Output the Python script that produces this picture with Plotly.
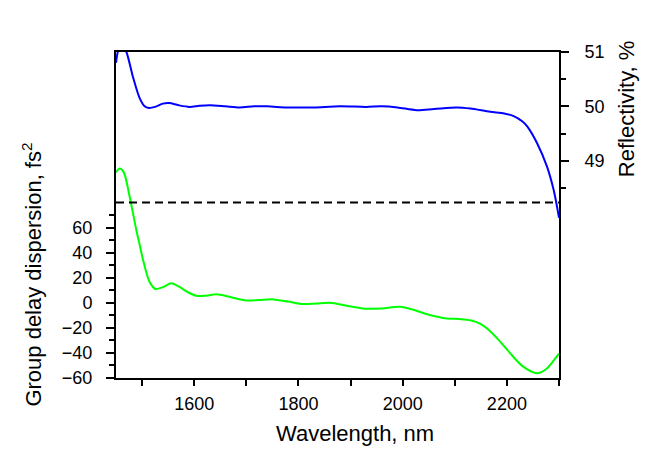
import plotly.graph_objects as go

# ---- data ----
refl_wl = [1450, 1455, 1462, 1470, 1482, 1495, 1505, 1513, 1525, 1540, 1552, 1570, 1591,
           1610, 1630, 1660, 1687, 1715, 1740, 1777, 1800, 1830, 1880, 1930, 1960, 1990,
           2027, 2060, 2104, 2130, 2168, 2195, 2213, 2230, 2239, 2258, 2277, 2290, 2300]
refl_val = [50.80, 51.05, 51.12, 51.0, 50.56, 50.16, 50.0, 49.97, 49.99, 50.05, 50.06, 50.02, 49.99,
            50.01, 50.02, 50.0, 49.98, 50.0, 50.0, 49.98, 49.98, 49.98, 50.0, 49.99, 50.0, 49.98,
            49.93, 49.95, 49.98, 49.96, 49.90, 49.87, 49.82, 49.72, 49.63, 49.32, 48.89, 48.45, 47.95]

gdd_wl = [1450, 1457, 1465, 1476, 1489, 1495, 1502, 1514, 1526, 1540, 1556, 1570, 1590, 1604,
          1620, 1643, 1665, 1700, 1725, 1752, 1780, 1809, 1835, 1861, 1895, 1931, 1960, 1995,
          2020, 2050, 2085, 2110, 2130, 2150, 2162, 2185, 2207, 2230, 2258, 2275, 2290, 2300]
gdd_val = [104, 107, 104, 85, 58, 47, 34, 17, 11, 12.5, 15.5, 13, 8, 5.6,
           5.5, 6.7, 5, 1.8, 2.2, 2.7, 1, -1, -0.5, 0, -2.5, -4.8, -4.5, -3.2,
           -5.5, -9.5, -12.5, -13, -14, -17, -20.6, -30, -40.6, -50.5, -56.2, -53, -46, -40.6]

dash_level = 80          # GDD value of the dashed reference line
x_range = [1450, 2300]
gdd_range = [-60, 200]
refl_range = [45, 51]

x_major = [1600, 1800, 2000, 2200]
x_minor = [1500, 1700, 1900, 2100, 2300]
gdd_major = [-60, -40, -20, 0, 20, 40, 60]
gdd_minor = [-50, -30, -10, 10, 30, 50, 70]
refl_major = [49, 50, 51]
refl_minor = [48.5, 49.5, 50.5]

FONT = "Arial, Liberation Sans, sans-serif"

fig = go.Figure()
fig.add_trace(go.Scatter(x=gdd_wl, y=gdd_val, mode="lines",
                         line=dict(color="#00FF00", width=2, shape="spline", smoothing=0.8),
                         yaxis="y", showlegend=False))
fig.add_trace(go.Scatter(x=x_range, y=[dash_level, dash_level], mode="lines",
                         line=dict(color="black", width=2, dash="8px,5px"),
                         yaxis="y", showlegend=False))
fig.add_trace(go.Scatter(x=refl_wl, y=refl_val, mode="lines",
                         line=dict(color="#0000FF", width=2, shape="spline", smoothing=0.8),
                         yaxis="y2", showlegend=False))

axis_common = dict(showgrid=False, zeroline=False, showline=True, linecolor="black",
                   linewidth=2, ticks="outside", tickcolor="black", tickwidth=2,
                   tickfont=dict(family=FONT, size=18, color="black"))

fig.update_layout(
    width=642, height=445,
    margin=dict(l=108, r=91, t=44, b=75),
    plot_bgcolor="white", paper_bgcolor="white",
    xaxis=dict(range=x_range, tickmode="array", tickvals=x_major, ticklen=6,
               mirror=True, ticklabelstandoff=2,
               minor=dict(tickmode="array", tickvals=x_minor, ticklen=6, tickwidth=2,
                          tickcolor="black", ticks="outside"),
               **axis_common),
    yaxis=dict(range=gdd_range, tickmode="array", tickvals=gdd_major, ticklen=8,
               ticklabelstandoff=10,
               minor=dict(tickmode="array", tickvals=gdd_minor, ticklen=5, tickwidth=2,
                          tickcolor="black", ticks="outside"),
               **axis_common),
    yaxis2=dict(range=refl_range, overlaying="y", side="right", tickmode="array",
                tickvals=refl_major, ticklen=8, ticklabelstandoff=12,
                minor=dict(tickmode="array", tickvals=refl_minor, ticklen=5, tickwidth=2,
                           tickcolor="black", ticks="outside"),
                **axis_common),
    annotations=[
        dict(text="Wavelength, nm", xref="paper", yref="paper", x=0.539, y=-0.170,
             xanchor="center", yanchor="middle", showarrow=False,
             font=dict(family=FONT, size=22, color="black")),
        dict(text="Group delay dispersion, fs<sup>2</sup>", xref="paper", yref="paper",
             x=-0.189, y=0.318, xanchor="center", yanchor="middle", textangle=-90,
             showarrow=False, font=dict(family=FONT, size=22, color="black")),
        dict(text="Reflectivity, %", xref="paper", yref="paper", x=1.153, y=0.827,
             xanchor="center", yanchor="middle", textangle=-90, showarrow=False,
             font=dict(family=FONT, size=22, color="black")),
    ],
)

fig.write_html("out.html")
